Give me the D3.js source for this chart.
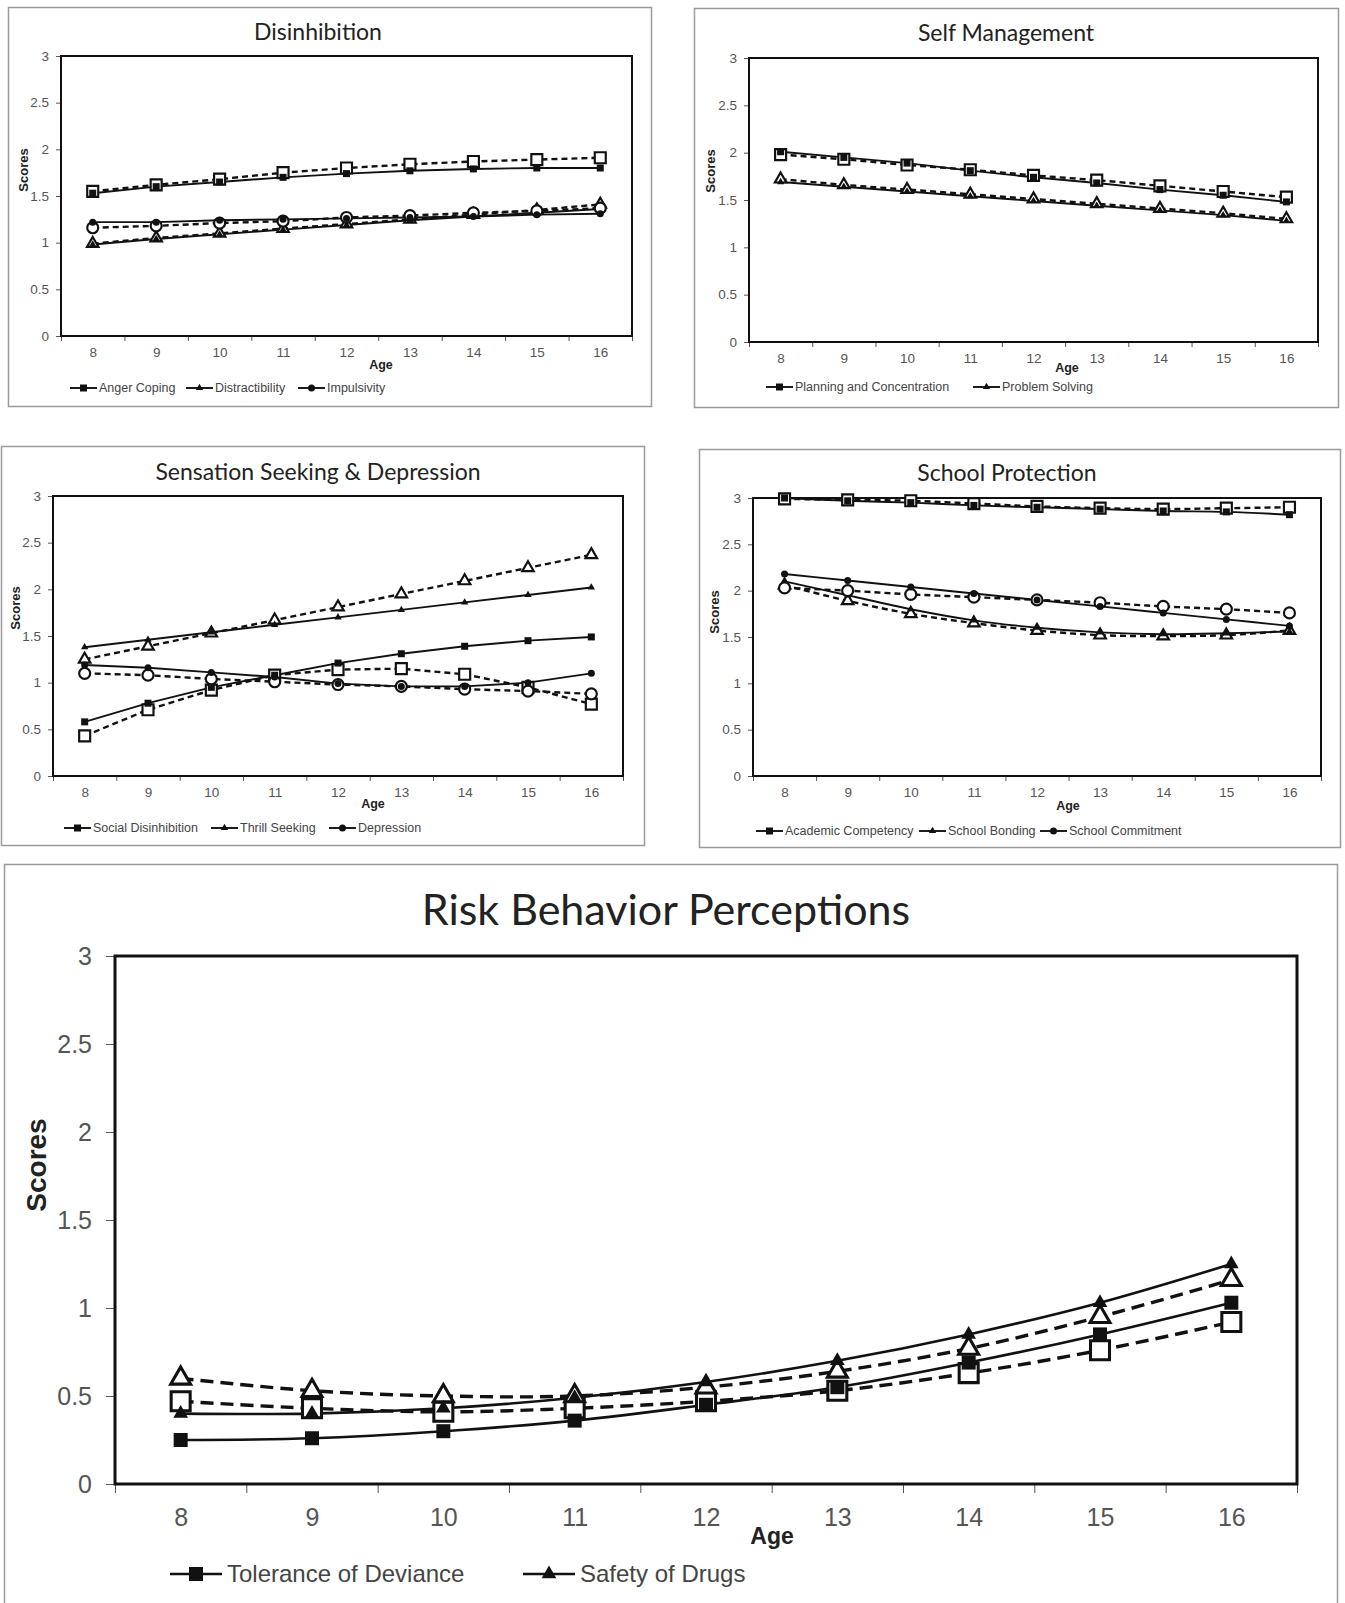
<!DOCTYPE html>
<html>
<head>
<meta charset="utf-8">
<script src="https://cdn.jsdelivr.net/npm/d3@7"></script>
<style>
  body { margin: 0; background: #fff; }
  svg { display: block; }
</style>
</head>
<body>
<div id="chart"></div>
<script>
// ages on the x axis, shared by every panel
var ages = [8, 9, 10, 11, 12, 13, 14, 15, 16];
var yTicks = [0, 0.5, 1, 1.5, 2, 2.5, 3];

// Disinhibition (solid = filled markers, dashed = open markers)
var angerCoping = [1.53, 1.60, 1.65, 1.70, 1.74, 1.77, 1.79, 1.80, 1.80];
var angerCopingDash = [1.55, 1.62, 1.68, 1.75, 1.80, 1.84, 1.87, 1.89, 1.91];
var distractibility = [0.98, 1.04, 1.09, 1.14, 1.19, 1.24, 1.28, 1.32, 1.36];
var distractibilityDash = [0.99, 1.05, 1.10, 1.15, 1.20, 1.25, 1.30, 1.35, 1.41];
var impulsivity = [1.22, 1.22, 1.24, 1.25, 1.26, 1.27, 1.28, 1.30, 1.31];
var impulsivityDash = [1.16, 1.18, 1.21, 1.23, 1.27, 1.29, 1.32, 1.34, 1.37];

// Self Management
var planning = [2.01, 1.95, 1.89, 1.81, 1.74, 1.68, 1.61, 1.55, 1.48];
var planningDash = [1.98, 1.93, 1.87, 1.82, 1.76, 1.71, 1.65, 1.59, 1.53];
var problemSolving = [1.69, 1.64, 1.59, 1.54, 1.49, 1.44, 1.39, 1.34, 1.28];
var problemSolvingDash = [1.72, 1.66, 1.61, 1.56, 1.51, 1.46, 1.41, 1.36, 1.30];

// Sensation Seeking & Depression
var socialDisinhibition = [0.58, 0.78, 0.95, 1.08, 1.21, 1.31, 1.39, 1.45, 1.49];
var socialDisinhibitionDash = [0.43, 0.71, 0.92, 1.08, 1.14, 1.15, 1.09, 0.95, 0.77];
var thrillSeeking = [1.38, 1.46, 1.54, 1.62, 1.70, 1.78, 1.86, 1.94, 2.02];
var thrillSeekingDash = [1.25, 1.39, 1.53, 1.67, 1.81, 1.95, 2.09, 2.23, 2.37];
var depression = [1.19, 1.16, 1.11, 1.06, 0.99, 0.96, 0.96, 1.00, 1.10];
var depressionDash = [1.10, 1.08, 1.04, 1.01, 0.98, 0.96, 0.93, 0.91, 0.88];

// School Protection
var academic = [3.00, 2.97, 2.95, 2.92, 2.90, 2.88, 2.86, 2.85, 2.82];
var academicDash = [2.99, 2.98, 2.97, 2.94, 2.91, 2.89, 2.88, 2.89, 2.90];
var bonding = [2.10, 1.95, 1.80, 1.68, 1.60, 1.55, 1.53, 1.54, 1.56];
var bondingDash = [2.06, 1.89, 1.75, 1.65, 1.57, 1.52, 1.51, 1.52, 1.57];
var commitment = [2.18, 2.11, 2.04, 1.97, 1.90, 1.83, 1.76, 1.69, 1.62];
var commitmentDash = [2.03, 2.00, 1.96, 1.93, 1.90, 1.87, 1.83, 1.80, 1.76];

// Risk Behavior Perceptions
var tolerance = [0.25, 0.26, 0.30, 0.36, 0.45, 0.55, 0.69, 0.85, 1.03];
var toleranceDash = [0.47, 0.43, 0.41, 0.43, 0.47, 0.53, 0.63, 0.76, 0.92];
var safety = [0.40, 0.40, 0.43, 0.49, 0.58, 0.70, 0.85, 1.03, 1.25];
var safetyDash = [0.60, 0.53, 0.50, 0.50, 0.55, 0.64, 0.77, 0.95, 1.16];

var W = 1345, H = 1603;
var svg = d3.select('#chart').append('svg').attr('width', W).attr('height', H);

// small panels share one look, the big one is scaled up
var smallStyle = { title: 23, tick: 13.5, scores: 13, age: 12.5, legend: 12.5, tickLen: 5, pad: 7, xPad: 11,
                   solidW: 1.9, dashW: 2.4, dash: '6,4', fill: 7, open: 11, plotW: 2, legLine: 27, legGap: 2 };
var bigStyle = { title: 43, tick: 25, scores: 28, age: 23, legend: 24, tickLen: 9, pad: 14, xPad: 24,
                 solidW: 2.6, dashW: 3.4, dash: '13,7', fill: 14, open: 19, plotW: 3, legLine: 52, legGap: 5 };

var panels = [
  { title: 'Disinhibition', box: [8, 7, 651, 406], plot: [61, 632, 56, 336], st: smallStyle,
    titleX: 318, titleY: 40, scoresX: 23, scoresY: 170, ageX: 381, ageY: 365, legY: 388, legX: [70, 186, 298],
    series: [
      { name: 'Anger Coping', shape: 'square', solid: angerCoping, dashed: angerCopingDash },
      { name: 'Distractibility', shape: 'triangle', solid: distractibility, dashed: distractibilityDash },
      { name: 'Impulsivity', shape: 'circle', solid: impulsivity, dashed: impulsivityDash }
    ] },
  { title: 'Self Management', box: [694, 8, 1338, 407], plot: [749, 1318, 58, 342], st: smallStyle,
    titleX: 1006, titleY: 41, scoresX: 710, scoresY: 171, ageX: 1067, ageY: 368, legY: 387, legX: [766, 973],
    series: [
      { name: 'Planning and Concentration', shape: 'square', solid: planning, dashed: planningDash },
      { name: 'Problem Solving', shape: 'triangle', solid: problemSolving, dashed: problemSolvingDash }
    ] },
  { title: 'Sensation Seeking & Depression', box: [1, 446, 644, 845], plot: [53, 623, 496, 776], st: smallStyle,
    titleX: 318, titleY: 480, scoresX: 15, scoresY: 608, ageX: 373, ageY: 804, legY: 828, legX: [64, 211, 329],
    series: [
      { name: 'Social Disinhibition', shape: 'square', solid: socialDisinhibition, dashed: socialDisinhibitionDash },
      { name: 'Thrill Seeking', shape: 'triangle', solid: thrillSeeking, dashed: thrillSeekingDash },
      { name: 'Depression', shape: 'circle', solid: depression, dashed: depressionDash }
    ] },
  { title: 'School Protection', box: [699, 449, 1340, 847], plot: [753, 1321, 498, 776], st: smallStyle,
    titleX: 1007, titleY: 481, scoresX: 714, scoresY: 612, ageX: 1068, ageY: 806, legY: 831, legX: [756, 919, 1040],
    smooth: true,
    series: [
      { name: 'Academic Competency', shape: 'square', solid: academic, dashed: academicDash },
      { name: 'School Bonding', shape: 'triangle', solid: bonding, dashed: bondingDash },
      { name: 'School Commitment', shape: 'circle', solid: commitment, dashed: commitmentDash }
    ] },
  { title: 'Risk Behavior Perceptions', box: [4, 864, 1337, 1620], plot: [115, 1297, 956, 1484], st: bigStyle,
    titleX: 666, titleY: 925, scoresX: 36, scoresY: 1165, ageX: 772, ageY: 1536, legY: 1574, legX: [170, 523],
    smooth: true,
    series: [
      { name: 'Tolerance of Deviance', shape: 'square', solid: tolerance, dashed: toleranceDash },
      { name: 'Safety of Drugs', shape: 'triangle', solid: safety, dashed: safetyDash }
    ] }
];

var shapes = { square: d3.symbolSquare, triangle: d3.symbolTriangle, circle: d3.symbolCircle };
var sans = '"Liberation Sans", Arial, sans-serif';

// d3.symbol wants an area, convert from a visual width
function symbolArea(shape, w) {
  if (shape === 'square') return w * w;
  if (shape === 'triangle') return w * w * Math.sqrt(3) / 4 * 1.1;
  return Math.PI * w * w / 4;
}

function drawPanel(p) {
  var st = p.st;
  var g = svg.append('g');
  var left = p.plot[0], right = p.plot[1], top = p.plot[2], bottom = p.plot[3];

  g.append('rect')
    .attr('x', p.box[0] + 0.5).attr('y', p.box[1] + 0.5)
    .attr('width', p.box[2] - p.box[0]).attr('height', p.box[3] - p.box[1])
    .attr('fill', '#fff').attr('stroke', '#9a9a9a').attr('stroke-width', 1.5);

  var x = d3.scaleLinear().domain([7.5, 16.5]).range([left, right]);
  var y = d3.scaleLinear().domain([0, 3]).range([bottom, top]);

  // y axis
  var yAx = g.append('g').attr('transform', 'translate(' + left + ',0)')
    .call(d3.axisLeft(y).tickValues(yTicks).tickSize(st.tickLen).tickPadding(st.pad).tickFormat(d3.format('~g')));
  // x axis: ticks on the category boundaries, labels in the middle
  var xTickAx = g.append('g').attr('transform', 'translate(0,' + bottom + ')')
    .call(d3.axisBottom(x).tickValues(d3.range(7.5, 17, 1)).tickSize(st.tickLen).tickFormat(''));
  var xLabAx = g.append('g').attr('transform', 'translate(0,' + bottom + ')')
    .call(d3.axisBottom(x).tickValues(ages).tickSize(0).tickPadding(st.xPad));
  [yAx, xTickAx, xLabAx].forEach(function (a) {
    a.select('.domain').remove();
    a.selectAll('line').attr('stroke', '#555');
    a.selectAll('text').attr('fill', '#555').style('font-family', sans).style('font-size', st.tick + 'px');
  });

  g.append('rect')
    .attr('x', left).attr('y', top).attr('width', right - left).attr('height', bottom - top)
    .attr('fill', 'none').attr('stroke', '#111').attr('stroke-width', st.plotW);

  var line = d3.line()
    .x(function (d, i) { return x(ages[i]); })
    .y(function (d) { return y(d); })
    .curve(p.smooth ? d3.curveCatmullRom.alpha(0.5) : d3.curveLinear);

  p.series.forEach(function (s) {
    g.append('path').datum(s.dashed).attr('d', line)
      .attr('fill', 'none').attr('stroke', '#111').attr('stroke-width', st.dashW).attr('stroke-dasharray', st.dash);
    g.append('path').datum(s.solid).attr('d', line)
      .attr('fill', 'none').attr('stroke', '#111').attr('stroke-width', st.solidW);
  });
  p.series.forEach(function (s) {
    var openSym = d3.symbol().type(shapes[s.shape]).size(symbolArea(s.shape, st.open));
    g.selectAll(null).data(s.dashed).enter().append('path')
      .attr('d', openSym)
      .attr('transform', function (d, i) { return 'translate(' + x(ages[i]) + ',' + y(d) + ')'; })
      .attr('fill', '#fff').attr('stroke', '#111').attr('stroke-width', st.dashW * 0.9);
    var fillSym = d3.symbol().type(shapes[s.shape]).size(symbolArea(s.shape, st.fill));
    g.selectAll(null).data(s.solid).enter().append('path')
      .attr('d', fillSym)
      .attr('transform', function (d, i) { return 'translate(' + x(ages[i]) + ',' + y(d) + ')'; })
      .attr('fill', '#111');
  });

  // titles and axis names
  g.append('text').attr('x', p.titleX).attr('y', p.titleY)
    .attr('text-anchor', 'middle').style('font-family', 'Lato, "Open Sans", sans-serif')
    .style('font-size', st.title + 'px').attr('fill', '#222').text(p.title);
  g.append('text').attr('transform', 'translate(' + p.scoresX + ',' + p.scoresY + ') rotate(-90)')
    .attr('text-anchor', 'middle').attr('dy', '0.35em')
    .style('font-family', sans).style('font-weight', 'bold')
    .style('font-size', st.scores + 'px').attr('fill', '#222').text('Scores');
  g.append('text').attr('x', p.ageX).attr('y', p.ageY).attr('dy', '0.35em')
    .attr('text-anchor', 'middle')
    .style('font-family', sans).style('font-weight', 'bold')
    .style('font-size', st.age + 'px').attr('fill', '#222').text('Age');

  // legend (solid series only)
  p.series.forEach(function (s, i) {
    var lg = g.append('g').attr('transform', 'translate(' + p.legX[i] + ',' + p.legY + ')');
    lg.append('line').attr('x1', 0).attr('x2', st.legLine).attr('stroke', '#111').attr('stroke-width', st.solidW);
    lg.append('path').attr('d', d3.symbol().type(shapes[s.shape]).size(symbolArea(s.shape, st.fill))())
      .attr('transform', 'translate(' + st.legLine / 2 + ',0)').attr('fill', '#111');
    lg.append('text').attr('x', st.legLine + st.legGap).attr('dy', '0.35em')
      .style('font-family', sans).style('font-size', st.legend + 'px')
      .attr('fill', '#444').text(s.name);
  });
}

panels.forEach(drawPanel);
</script>
</body>
</html>
